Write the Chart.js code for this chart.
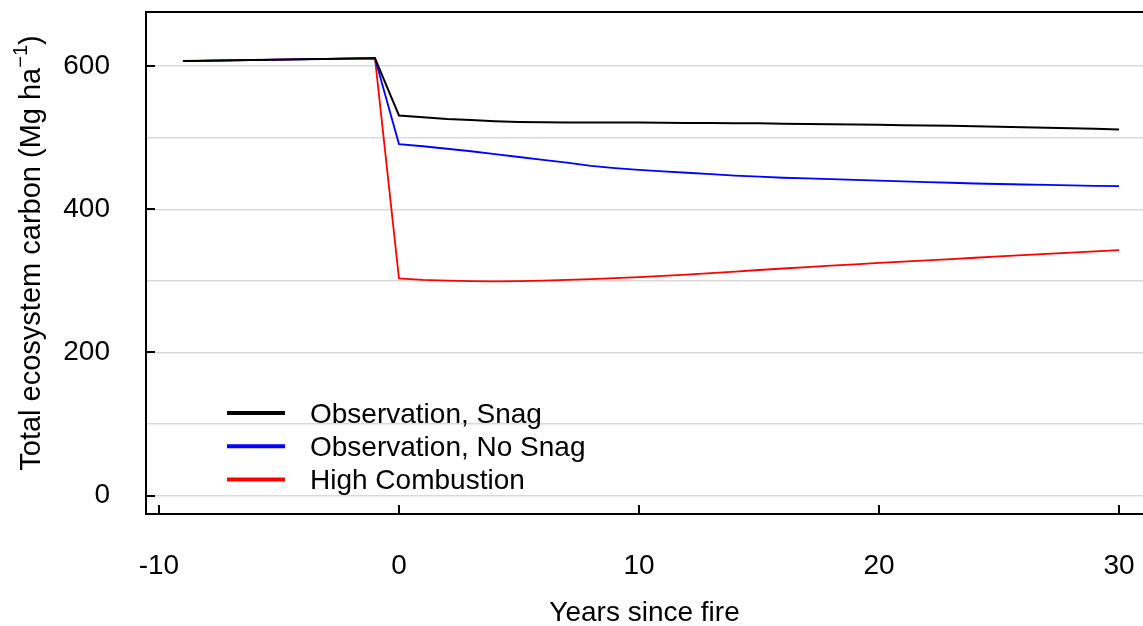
<!DOCTYPE html>
<html>
<head>
<meta charset="utf-8">
<script src="https://cdn.jsdelivr.net/npm/chart.js@4.4.1/dist/chart.umd.min.js"></script>
<style>
  html, body { margin: 0; padding: 0; background: #ffffff; }
  #c { display: block; }
</style>
</head>
<body>
<canvas id="c" width="1143" height="626"></canvas>
<script>
// Years relative to the fire (pre-fire years, then yearly after the fire)
const years = [-9, -1, 0, 1, 2, 3, 4, 5, 6, 7, 8, 9, 10, 11, 12, 13, 14, 15,
               16, 17, 18, 19, 20, 21, 22, 23, 24, 25, 26, 27, 28, 29, 30];

// Total ecosystem carbon, Mg ha-1
const obsSnag = [607, 611, 531, 528.5, 526, 524.5, 523, 522, 521.5, 521, 521, 521, 521,
                 520.8, 520.6, 520.4, 520.2, 520, 519.6, 519.2, 518.8, 518.4, 518,
                 517.5, 517, 516.5, 516, 515.3, 514.6, 513.9, 513.2, 512.4, 511.5];
const obsNoSnag = [607, 611, 491, 488, 484.5, 481, 477, 473, 469, 465, 460.5, 457.5, 455,
                   453, 451, 449, 447, 445.5, 444, 443, 442, 441, 440, 439, 438,
                   437, 436, 435.3, 434.6, 434, 433.4, 432.8, 432.2];
const highCombustion = [607, 611, 303.5, 301.5, 300.3, 299.7, 299.4, 299.6, 300.3, 301.3,
                        302.5, 303.8, 305.3, 307, 308.8, 310.8, 313, 315.2, 317.3, 319.3,
                        321.2, 323.1, 325, 326.9, 328.7, 330.5, 332.3, 334.1, 335.9,
                        337.7, 339.5, 341.3, 343];

const seriesNames = ['Observation, Snag', 'Observation, No Snag', 'High Combustion'];
const seriesColors = ['#000000', '#0000ff', '#ff0000'];

const xTickValues = [-10, 0, 10, 20, 30];
const yGridValues = [0, 100, 200, 300, 400, 500, 600];
const yTickLabels = [0, 200, 400, 600];

const FONT = "'Liberation Sans', Arial, sans-serif";
const FS = 28;
const TITLE_FS = 29;

function toPoints(values) {
  return values.map((v, i) => ({ x: years[i], y: v }));
}

// Box frame (left, bottom, top) with inward tick marks
const framePlugin = {
  id: 'frame',
  afterDatasetsDraw(chart) {
    const { ctx, chartArea: a, scales } = chart;
    ctx.save();
    ctx.strokeStyle = '#000';
    ctx.lineWidth = 2;
    ctx.lineCap = 'butt';
    ctx.beginPath();
    ctx.moveTo(a.right + 2, a.top);
    ctx.lineTo(a.left, a.top);
    ctx.lineTo(a.left, a.bottom);
    ctx.lineTo(a.right + 2, a.bottom);
    ctx.stroke();
    ctx.beginPath();
    yTickLabels.forEach(v => {
      const y = Math.round(scales.y.getPixelForValue(v));
      ctx.moveTo(a.left, y);
      ctx.lineTo(a.left + 9, y);
    });
    xTickValues.forEach(v => {
      const x = Math.round(scales.x.getPixelForValue(v));
      ctx.moveTo(x, a.bottom);
      ctx.lineTo(x, a.bottom - 9);
    });
    ctx.stroke();
    ctx.restore();
  }
};

// Legend drawn inside the plot area, lower left
const legendPlugin = {
  id: 'insideLegend',
  afterDraw(chart) {
    const { ctx, chartArea: a } = chart;
    ctx.save();
    ctx.font = FS + 'px ' + FONT;
    ctx.textBaseline = 'middle';
    ctx.textAlign = 'left';
    chart.data.datasets.forEach((ds, i) => {
      const y = 413 + i * 33.2;
      ctx.strokeStyle = ds.borderColor;
      ctx.lineWidth = 4;
      ctx.beginPath();
      ctx.moveTo(a.left + 81, y);
      ctx.lineTo(a.left + 139, y);
      ctx.stroke();
      ctx.fillStyle = '#000';
      ctx.fillText(ds.label, a.left + 164, y + 2);
    });
    ctx.restore();
  }
};

// Y axis title with a superscript unit exponent
const yTitlePlugin = {
  id: 'yTitle',
  afterDraw(chart) {
    const { ctx, chartArea: a } = chart;
    const main = 'Total ecosystem carbon (Mg ha';
    const sup = '\u22121';
    const tail = ')';
    ctx.save();
    ctx.fillStyle = '#000';
    ctx.textBaseline = 'alphabetic';
    ctx.textAlign = 'left';
    const mainFont = TITLE_FS + 'px ' + FONT;
    const supFont = Math.round(TITLE_FS * 0.7) + 'px ' + FONT;
    ctx.font = mainFont;
    const w1 = ctx.measureText(main).width;
    const w3 = ctx.measureText(tail).width;
    ctx.font = supFont;
    const w2 = ctx.measureText(sup).width;
    const total = w1 + w2 + w3;
    ctx.translate(40, (a.top + a.bottom) / 2 - 10);
    ctx.rotate(-Math.PI / 2);
    let x = -total / 2;
    ctx.font = mainFont;
    ctx.fillText(main, x, 0);
    x += w1;
    ctx.font = supFont;
    ctx.fillText(sup, x, -13);
    x += w2;
    ctx.font = mainFont;
    ctx.fillText(tail, x, 0);
    ctx.restore();
  }
};

new Chart(document.getElementById('c'), {
  type: 'line',
  data: {
    datasets: [
      { label: seriesNames[0], data: toPoints(obsSnag), borderColor: seriesColors[0], borderWidth: 2 },
      { label: seriesNames[1], data: toPoints(obsNoSnag), borderColor: seriesColors[1], borderWidth: 1.8 },
      { label: seriesNames[2], data: toPoints(highCombustion), borderColor: seriesColors[2], borderWidth: 1.8 }
    ]
  },
  options: {
    responsive: false,
    animation: false,
    devicePixelRatio: 1,
    layout: { padding: { top: 12, right: 0, bottom: 0, left: 0 } },
    elements: {
      point: { radius: 0 },
      line: { tension: 0, borderJoinStyle: 'miter', fill: false }
    },
    plugins: {
      legend: { display: false },
      tooltip: { enabled: false }
    },
    scales: {
      x: {
        type: 'linear',
        min: -10.54,
        max: 31.0,
        afterBuildTicks(scale) { scale.ticks = xTickValues.map(v => ({ value: v })); },
        afterFit(scale) {
          scale.height = 112;
          scale.paddingLeft = 0; scale.paddingRight = 0;
          scale.paddingTop = 0; scale.paddingBottom = 0;
        },
        grid: { display: false, drawTicks: false },
        border: { display: false },
        ticks: {
          font: { family: FONT, size: FS },
          color: '#000',
          padding: 35,
          maxRotation: 0,
          autoSkip: false
        },
        title: {
          display: true,
          text: 'Years since fire',
          font: { family: FONT, size: FS },
          color: '#000',
          padding: { top: 0, bottom: -4 }
        }
      },
      y: {
        type: 'linear',
        min: -25.6,
        max: 675.5,
        afterBuildTicks(scale) { scale.ticks = yGridValues.map(v => ({ value: v })); },
        afterFit(scale) {
          scale.width = 146;
          scale.paddingLeft = 0; scale.paddingRight = 0;
          scale.paddingTop = 0; scale.paddingBottom = 0;
        },
        grid: { display: true, drawTicks: false, color: '#d9d9d9', lineWidth: 1.5 },
        border: { display: false },
        ticks: {
          font: { family: FONT, size: FS },
          color: '#000',
          padding: 36,
          autoSkip: false,
          callback: (v) => yTickLabels.includes(v) ? String(v) : ''
        }
      }
    }
  },
  plugins: [framePlugin, legendPlugin, yTitlePlugin]
});
</script>
</body>
</html>
